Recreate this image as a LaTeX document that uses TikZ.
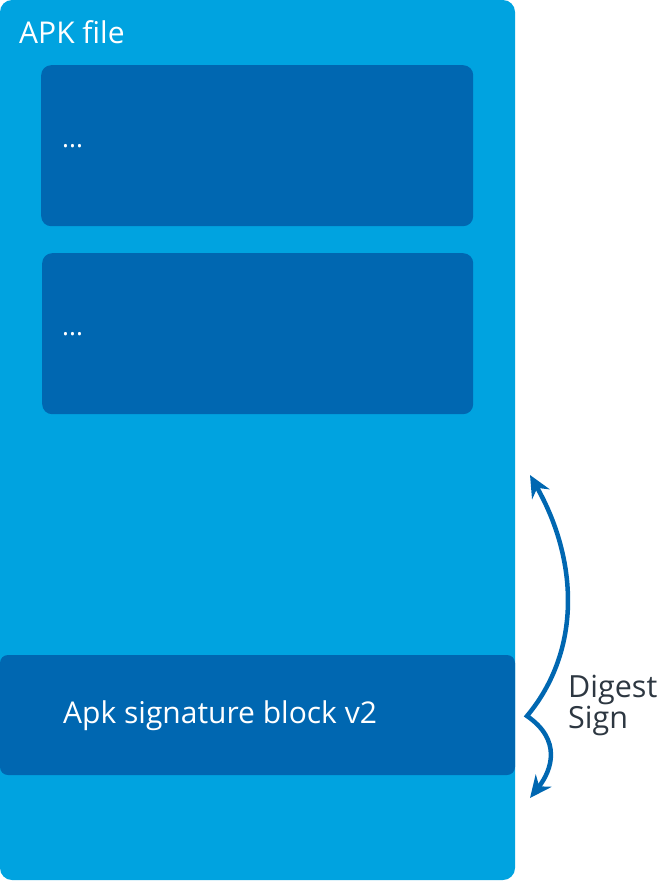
\documentclass[tikz,border=0pt]{standalone}
\usepackage{fontspec}
\setmainfont{Open Sans}
\usetikzlibrary{arrows.meta}
\definecolor{apkblue}{RGB}{0,163,224}
\definecolor{darkblue}{RGB}{0,103,177}
\definecolor{txtgray}{RGB}{45,55,65}
\begin{document}
\begin{tikzpicture}[x=1pt,y=-1pt,
  outerbox/.style={fill=apkblue, rounded corners=12pt},
  innerbox/.style={fill=darkblue, rounded corners=10pt},
  wtext/.style={text=white, anchor=base west, inner sep=0pt, font=\fontsize{30}{36}\selectfont},
  dtext/.style={text=txtgray, anchor=base west, inner sep=0pt, font=\fontsize{30.5}{33}\selectfont, align=left},
  brace/.style={draw=darkblue, line width=4.5pt, {Stealth[length=22pt,width=20pt]}-{Stealth[length=22pt,width=20pt]}}
]
\useasboundingbox (0,0) rectangle (658,881);
\fill[outerbox] (0,0) rectangle (515,880);
\node[innerbox, minimum width=432pt, minimum height=161pt, anchor=north west] (b1) at (41,65) {};
\node[innerbox, minimum width=431pt, minimum height=161pt, anchor=north west] (b2) at (42,253) {};
\fill[darkblue, rounded corners=8pt] (0,655) rectangle (515,775);
\node[wtext] (title) at (19,43) {APK file};
\node[wtext, font=\fontsize{26}{30}\selectfont] (d1) at (62,147) {...};
\node[wtext, font=\fontsize{26}{30}\selectfont] (d2) at (62,335) {...};
\node[wtext] (sig) at (63,723) {Apk signature block v2};
\node[dtext] (dg) at (568,697) {Digest};
\node[dtext] (sg) at (568,728) {Sign};
\coordinate (top) at (530,475);
\coordinate (mid) at (527,716);
\coordinate (bot) at (530,798);
\draw[brace] (top) .. controls (578,560) and (582,650) .. (mid) .. controls (562,740) and (552,770) .. (bot);
\end{tikzpicture}
\end{document}
